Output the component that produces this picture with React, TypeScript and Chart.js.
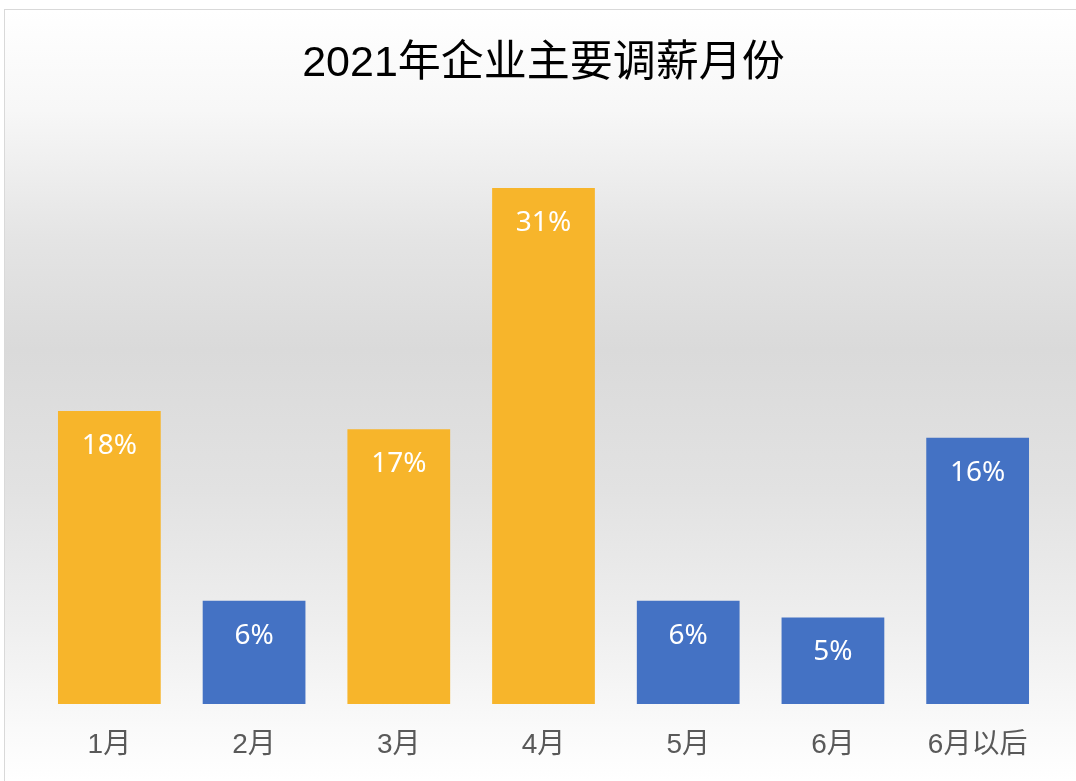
import React, { useEffect, useRef } from "react";
import { Chart, registerables } from "chart.js";

Chart.register(...registerables);

const TITLE = "2021年企业主要调薪月份";
const categories = ["1月", "2月", "3月", "4月", "5月", "6月", "6月以后"];
const values = [17.6, 6.2, 16.5, 31, 6.2, 5.2, 16.0];
const valueLabels = ["18%", "6%", "17%", "31%", "6%", "5%", "16%"];
const ORANGE = "#F7B52B";
const BLUE = "#4472C4";
const barColors = [ORANGE, BLUE, ORANGE, ORANGE, BLUE, BLUE, BLUE];

const FONT = '"Liberation Sans", "Noto Sans CJK SC", sans-serif';

const labelPlugin = {
  id: "insideLabels",
  afterDatasetsDraw(chart: any) {
    const ctx = chart.ctx;
    const meta = chart.getDatasetMeta(0);
    ctx.save();
    ctx.fillStyle = "#ffffff";
    ctx.font = '28px "Noto Sans", "Liberation Sans", sans-serif';
    ctx.textAlign = "center";
    ctx.textBaseline = "middle";
    meta.data.forEach((el: any, i: number) => {
      ctx.fillText(valueLabels[i], el.x, el.y + 35);
    });
    ctx.restore();
  },
};

export default function App() {
  const ref = useRef<HTMLCanvasElement | null>(null);
  useEffect(() => {
    if (!ref.current) return;
    const chart = new Chart(ref.current, {
      type: "bar",
      data: {
        labels: categories,
        datasets: [
          {
            data: values,
            backgroundColor: barColors,
            borderWidth: 0,
            barPercentage: 0.71,
            categoryPercentage: 1,
          },
        ],
      },
      options: {
        animation: false,
        responsive: false,
        maintainAspectRatio: false,
        layout: { padding: { left: 37, right: 26, top: 0, bottom: 0 } },
        plugins: {
          legend: { display: false },
          tooltip: { enabled: false },
          title: {
            display: true,
            text: TITLE,
            color: "#000000",
            font: { size: 43, family: FONT, weight: "normal" },
            padding: { top: 38, bottom: 98.4 },
          },
        },
        scales: {
          x: {
            grid: { display: false, drawTicks: false },
            border: { display: false },
            ticks: {
              color: "#595959",
              font: { size: 28, family: FONT },
              padding: 24,
            },
            afterFit(axis: any) {
              axis.height = 77;
            },
          },
          y: {
            display: false,
            min: 0,
            max: 31,
          },
        },
      },
      plugins: [labelPlugin],
    });
    return () => chart.destroy();
  }, []);

  return (
    <div
      style={{
        position: "fixed",
        left: 0,
        top: 0,
        width: 1076,
        height: 781,
        background: "#ffffff",
        overflow: "hidden",
      }}
    >
      <div
        style={{
          position: "absolute",
          left: 4,
          top: 9,
          width: 1080,
          height: 780,
          border: "1px solid #d9d9d9",
          background:
            "linear-gradient(to bottom, #ffffff 0px, #f7f7f7 100px, #e4e4e4 230px, #dadada 340px, #e2e2e2 480px, #efefef 620px, #fafafa 720px, #ffffff 771px)",
        }}
      />
      <canvas
        ref={ref}
        width={1076}
        height={781}
        style={{ position: "absolute", left: 0, top: 0 }}
      />
    </div>
  );
}
